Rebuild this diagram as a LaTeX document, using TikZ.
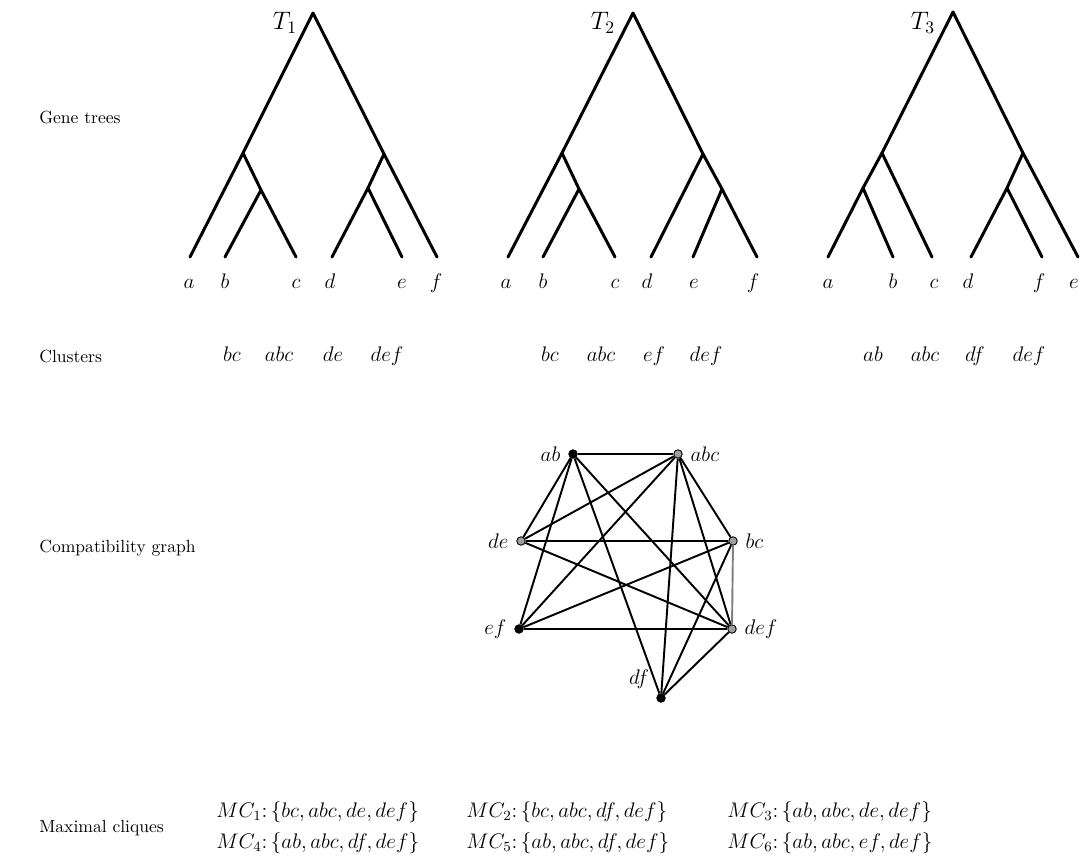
\documentclass[tikz,border=0pt]{standalone}
\usetikzlibrary{positioning}

\tikzset{
  branch/.style={line width=1.7pt, line cap=round, line join=round},
  leaflab/.style={font=\large, inner sep=1pt, anchor=base},
  treelab/.style={font=\Large, inner sep=1pt},
  rowlab/.style={anchor=west, inner sep=0pt},
  clus/.style={font=\large, inner sep=1pt, anchor=base},
  vtx/.style={circle, draw, line width=0.5pt, fill=black, minimum size=0.17cm, inner sep=0pt},
  gvtx/.style={vtx, fill=gray!75},
  cedge/.style={line width=1.1pt},
  clique/.style={anchor=west, font=\large, inner sep=0pt}
}

\begin{document}
\begin{tikzpicture}[x=0.02cm, y=-0.02cm]
\useasboundingbox (0,0) rectangle (1086,856);

% row titles
\node[rowlab] (gt) at (39,117) {Gene trees};
\node[rowlab] (cl) at (39,356) {Clusters};
\node[rowlab] (cg) at (39,548) {Compatibility graph};
\node[rowlab] (mc) at (39,828) {Maximal cliques};

% tree T1: ((b,c),a),((d,e),f)
\coordinate (r1) at (313,13);
\coordinate (u1) at (243,153);
\coordinate (v1) at (261,190);
\coordinate (w1) at (384,154);
\coordinate (x1) at (368,188);
\coordinate (a1) at (190,257);
\coordinate (b1) at (225,257);
\coordinate (c1) at (296,257);
\coordinate (d1) at (332,257);
\coordinate (e1) at (402,257);
\coordinate (f1) at (437,257);
\draw[branch] (a1) -- (u1) -- (r1) -- (w1) -- (f1);
\draw[branch] (u1) -- (v1) -- (c1);
\draw[branch] (b1) -- (v1);
\draw[branch] (w1) -- (x1) -- (d1);
\draw[branch] (x1) -- (e1);
\node[treelab] (t1) at (285,23) {$T_1$};
\node[leaflab] (la1) at (189,288) {$a$};
\node[leaflab] (lb1) at (225,288) {$b$};
\node[leaflab] (lc1) at (296,288) {$c$};
\node[leaflab] (ld1) at (330,288) {$d$};
\node[leaflab] (le1) at (402,288) {$e$};
\node[leaflab] (lf1) at (436,288) {$f$};

% tree T2: ((b,c),a),((e,f),d)
\coordinate (r2) at (633,13);
\coordinate (u2) at (562,153);
\coordinate (v2) at (579,189);
\coordinate (w2) at (703,154);
\coordinate (x2) at (722,189);
\coordinate (a2) at (508,257);
\coordinate (b2) at (543,257);
\coordinate (c2) at (615,257);
\coordinate (d2) at (651,257);
\coordinate (e2) at (693,257);
\coordinate (f2) at (757,257);
\draw[branch] (a2) -- (u2) -- (r2) -- (w2) -- (d2);
\draw[branch] (u2) -- (v2) -- (c2);
\draw[branch] (b2) -- (v2);
\draw[branch] (w2) -- (x2) -- (f2);
\draw[branch] (x2) -- (e2);
\node[treelab] (t2) at (603,23) {$T_2$};
\node[leaflab] (la2) at (506,288) {$a$};
\node[leaflab] (lb2) at (543,288) {$b$};
\node[leaflab] (lc2) at (615,288) {$c$};
\node[leaflab] (ld2) at (647,288) {$d$};
\node[leaflab] (le2) at (694,288) {$e$};
\node[leaflab] (lf2) at (753,288) {$f$};

% tree T3: ((a,b),c),((d,f),e)
\coordinate (r3) at (953,12);
\coordinate (u3) at (882,153);
\coordinate (v3) at (863,188);
\coordinate (w3) at (1023,153);
\coordinate (x3) at (1007,188);
\coordinate (a3) at (828,257);
\coordinate (b3) at (893,257);
\coordinate (c3) at (932,257);
\coordinate (d3) at (971,257);
\coordinate (f3) at (1042,257);
\coordinate (e3) at (1078,257);
\draw[branch] (c3) -- (u3) -- (r3) -- (w3) -- (e3);
\draw[branch] (u3) -- (v3) -- (a3);
\draw[branch] (b3) -- (v3);
\draw[branch] (w3) -- (x3) -- (d3);
\draw[branch] (x3) -- (f3);
\node[treelab] (t3) at (923,23) {$T_3$};
\node[leaflab] (la3) at (828,288) {$a$};
\node[leaflab] (lb3) at (893,288) {$b$};
\node[leaflab] (lc3) at (934,288) {$c$};
\node[leaflab] (ld3) at (968,288) {$d$};
\node[leaflab] (lf3) at (1039,288) {$f$};
\node[leaflab] (le3) at (1074,288) {$e$};

% clusters of each tree
\node[clus] (k11) at (232,361) {$bc$};
\node[clus] (k12) at (279,361) {$abc$};
\node[clus] (k13) at (333,361) {$de$};
\node[clus] (k14) at (387,361) {$def$};
\node[clus] (k21) at (550,361) {$bc$};
\node[clus] (k22) at (601,361) {$abc$};
\node[clus] (k23) at (654,361) {$ef$};
\node[clus] (k24) at (706,361) {$def$};
\node[clus] (k31) at (873,361) {$ab$};
\node[clus] (k32) at (925,361) {$abc$};
\node[clus] (k33) at (975,361) {$df$};
\node[clus] (k34) at (1029,361) {$def$};

% compatibility graph
\begin{scope}[every label/.style={font=\large, label distance=1pt}]
\node[vtx,  label=left:$ab$]    (ab)  at (573,454) {};
\node[gvtx, label=right:$abc$]  (abc) at (678,454) {};
\node[gvtx, label=left:$de$]    (de)  at (521,541) {};
\node[gvtx, label=right:$bc$]   (bc)  at (733,541) {};
\node[vtx,  label=left:$ef$]    (ef)  at (519,629) {};
\node[gvtx, label=right:$def$]  (def) at (732,629) {};
\node[vtx,  label=155:$df$]     (df)  at (661,698) {};
\end{scope}
\foreach \p/\q in {ab/abc, ab/de, ab/ef, ab/df, ab/def,
                   abc/bc, abc/de, abc/ef, abc/df, abc/def,
                   bc/de, bc/ef, bc/df, de/def, ef/def, df/def}
  \draw[cedge] (\p) -- (\q);
\draw[cedge, gray] (bc) -- (def);

% maximal cliques
\node[clique] (mc1) at (216,812) {$MC_1\colon \{bc, abc, de, def\}$};
\node[clique] (mc2) at (466,812) {$MC_2\colon \{bc, abc, df, def\}$};
\node[clique] (mc3) at (727,812) {$MC_3\colon \{ab, abc, de, def\}$};
\node[clique] (mc4) at (216,843) {$MC_4\colon \{ab, abc, df, def\}$};
\node[clique] (mc5) at (466,843) {$MC_5\colon \{ab, abc, df, def\}$};
\node[clique] (mc6) at (727,843) {$MC_6\colon \{ab, abc, ef, def\}$};
\end{tikzpicture}
\end{document}
